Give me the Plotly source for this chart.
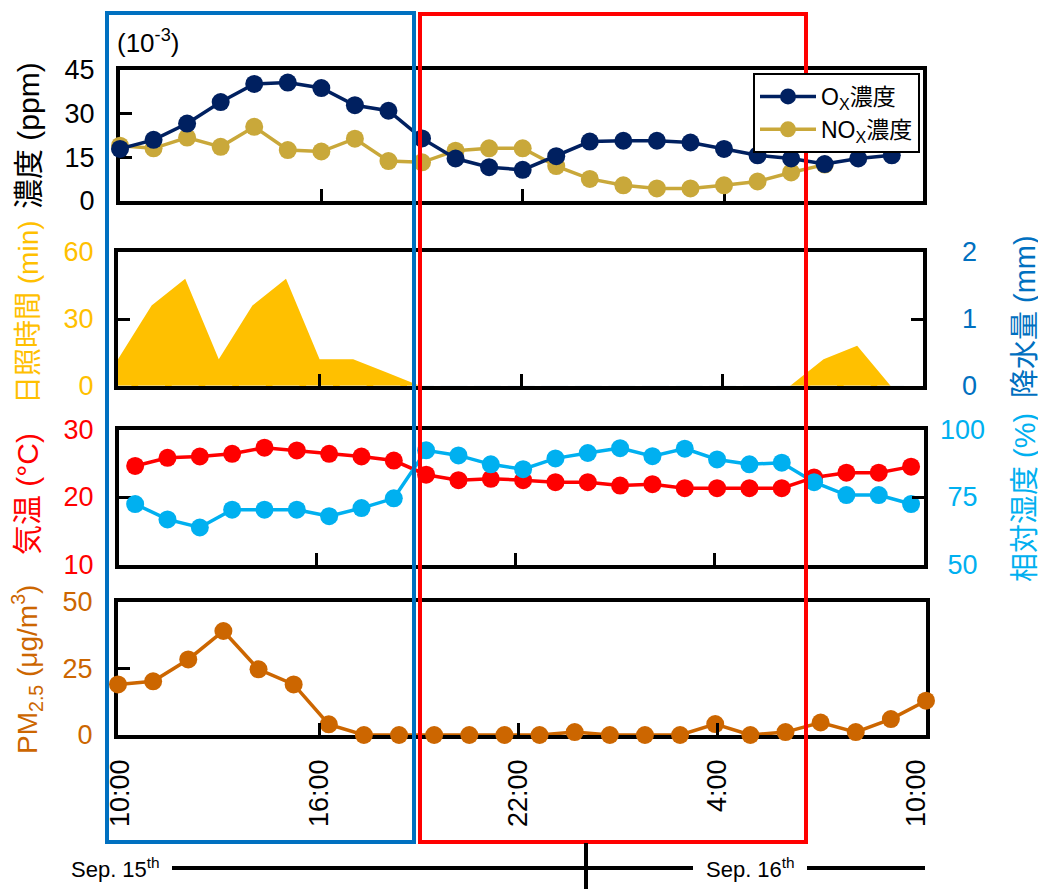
import plotly.graph_objects as go

W, H = 1046, 889
OFF = 8  # page body margin of the html page
FONT = "Liberation Sans, Arial, Noto Sans CJK JP"

# ---------------- data ----------------
# hour offsets from 10:00 Sep 15
ox_hours = list(range(24))
ox = [17.9, 21.0, 26.6, 34.0, 40.2, 40.7, 38.8, 32.9, 31.0, 21.5, 14.6, 11.6,
      10.7, 15.4, 20.4, 20.7, 20.7, 20.1, 17.9, 15.7, 14.6, 12.7, 14.6, 15.7]
nox_hours = list(range(22))
nox = [19.0, 18.1, 21.8, 18.6, 25.5, 17.5, 17.0, 21.4, 13.7, 13.3, 17.3, 18.1,
       18.1, 12.0, 7.6, 5.4, 4.3, 4.3, 5.4, 6.7, 9.8, 12.5]

sun_hours = list(range(24))
sunshine = [12, 36, 48, 12, 36, 48, 12, 12, 6, 0, 0, 0,
            0, 0, 0, 0, 0, 0, 0, 0, 0, 12, 18, 0]
precip = [0] * 24

met_index = list(range(25))
temperature = [24.6, 25.8, 26.0, 26.4, 27.3, 26.9, 26.4, 26.0, 25.4, 23.3, 22.5, 22.7,
               22.5, 22.2, 22.2, 21.7, 21.9, 21.3, 21.3, 21.3, 21.3, 22.9, 23.6, 23.6, 24.5]
humidity = [72.4, 66.7, 63.7, 70.3, 70.3, 70.3, 67.9, 70.9, 74.5, 92.3, 90.4, 87.1,
            85.3, 89.3, 91.3, 93.1, 90.1, 92.9, 88.9, 87.1, 87.7, 80.5, 75.7, 75.7, 72.4]

pm_index = list(range(24))
pm25 = [19.0, 20.2, 28.4, 39.1, 24.7, 19.0, 4.0, 0.0, 0.0, 0.0, 0.0, 0.0,
        0.0, 1.1, 0.0, 0.0, 0.0, 4.1, 0.0, 1.1, 4.7, 1.1, 6.0, 12.9]

time_ticks = [0, 6, 12, 18, 24]
time_labels = ["10:00", "16:00", "22:00", "4:00", "10:00"]

# ---------------- colours ----------------
C_OX = "#002060"
C_NOX = "#C9A83A"
C_SUN = "#FFC000"
C_RAIN = "#0070C0"
C_TEMP = "#FF0000"
C_HUM = "#00B0F0"
C_PM = "#CC6600"


def fx(p):
    return (p - OFF) / W


def fy(p):
    return 1 - (p - OFF) / H


fig = go.Figure()

MK = 18
LW = 3.5

# Panel 1
fig.add_trace(go.Scatter(x=nox_hours, y=nox, mode="lines+markers", name="NO<sub>X</sub>濃度",
                         line=dict(color=C_NOX, width=LW), marker=dict(color=C_NOX, size=MK),
                         cliponaxis=False, legendrank=2, xaxis="x", yaxis="y"))
fig.add_trace(go.Scatter(x=ox_hours, y=ox, mode="lines+markers", name="O<sub>X</sub>濃度",
                         line=dict(color=C_OX, width=LW), marker=dict(color=C_OX, size=MK),
                         cliponaxis=False, legendrank=1, xaxis="x", yaxis="y"))
# Panel 2
fig.add_trace(go.Scatter(x=sun_hours, y=sunshine, mode="lines", fill="tozeroy",
                         line=dict(color=C_SUN, width=0), fillcolor=C_SUN,
                         showlegend=False, xaxis="x2", yaxis="y2"))
fig.add_trace(go.Bar(x=sun_hours, y=precip, marker_color=C_RAIN, showlegend=False,
                     xaxis="x2", yaxis="y5"))
# Panel 3
fig.add_trace(go.Scatter(x=met_index, y=humidity, mode="lines+markers",
                         line=dict(color=C_HUM, width=LW), marker=dict(color=C_HUM, size=MK),
                         cliponaxis=False, showlegend=False, xaxis="x3", yaxis="y6"))
fig.add_trace(go.Scatter(x=met_index, y=temperature, mode="lines+markers",
                         line=dict(color=C_TEMP, width=LW), marker=dict(color=C_TEMP, size=MK),
                         cliponaxis=False, showlegend=False, xaxis="x3", yaxis="y3"))
# Panel 4
fig.add_trace(go.Scatter(x=pm_index, y=pm25, mode="lines+markers",
                         line=dict(color=C_PM, width=LW), marker=dict(color=C_PM, size=MK),
                         cliponaxis=False, showlegend=False, xaxis="x4", yaxis="y4"))
# empty carriers for the time axes
for xa, ya in (("x5", "y3"), ("x6", "y4"), ("x7", "y4")):
    fig.add_trace(go.Scatter(x=[time_ticks[0], time_ticks[-1]], y=[None, None], mode="lines",
                             showlegend=False, hoverinfo="skip", xaxis=xa, yaxis=ya))

box = dict(showline=True, linewidth=4, linecolor="black", mirror=True,
           showgrid=False, zeroline=False, ticks="inside", ticklen=12,
           tickwidth=3, tickcolor="black", automargin=False)
plain = dict(showline=False, showgrid=False, zeroline=False, automargin=False,
             tickmode="array", ticklen=12, tickwidth=3, tickcolor="black")


def tf(color):
    return dict(size=27, color=color, family=FONT)


# x axes
p1x = [120, 923]
p2x = [118, 923]
p3x = [119, 924]
p4x = [118, 926]
xcommon = dict(box, tickmode="array", tickvals=time_ticks[1:4], showticklabels=False)
fig.update_layout(
    xaxis=dict(xcommon, domain=[fx(p1x[0]), fx(p1x[1])], range=[0, 23.93], anchor="y",
               layer="below traces"),
    xaxis2=dict(xcommon, domain=[fx(p2x[0]), fx(p2x[1])], range=[0, 23.96], anchor="y2"),
    xaxis3=dict(box, domain=[fx(p3x[0]), fx(p3x[1])], range=[-0.5, 24.4], anchor="y3",
                ticks="", showticklabels=False, layer="below traces"),
    xaxis4=dict(box, domain=[fx(p4x[0]), fx(p4x[1])], range=[0, 23], anchor="y4",
                ticks="", showticklabels=False, layer="below traces"),
    xaxis5=dict(plain, overlaying="x3", anchor="y3", range=[0.06, 24.31],
                tickvals=time_ticks[1:4], ticks="inside", showticklabels=False),
    xaxis6=dict(plain, overlaying="x4", anchor="y4", range=[-0.06, 24.28],
                tickvals=time_ticks[1:4], ticks="inside", showticklabels=False),
    xaxis7=dict(plain, overlaying="x4", anchor="y4", range=[-0.06, 24.28],
                tickvals=time_ticks, ticktext=time_labels, ticks="", tickangle=-90,
                ticklabelstandoff=18, tickfont=tf("black")),
)

# y axes
fig.update_layout(
    yaxis=dict(box, domain=[fy(201), fy(70)], range=[0, 45], anchor="x",
               tickmode="array", tickvals=[0, 15, 30, 45], tickfont=tf("black"),
               ticklabelstandoff=16, layer="below traces"),
    yaxis2=dict(box, domain=[fy(386), fy(252)], range=[0, 60], anchor="x2",
                tickmode="array", tickvals=[0, 30, 60], tickfont=tf(C_SUN),
                ticklabelstandoff=15),
    yaxis5=dict(plain, overlaying="y2", side="right", anchor="x2", range=[0, 2],
                tickvals=[0, 1, 2], ticks="inside", tickfont=tf(C_RAIN),
                ticklabelstandoff=38),
    yaxis3=dict(box, domain=[fy(564.5), fy(429.5)], range=[10, 30], anchor="x3",
                tickmode="array", tickvals=[10, 20, 30], tickfont=tf(C_TEMP),
                ticklabelstandoff=16, layer="below traces"),
    yaxis6=dict(plain, overlaying="y3", side="right", anchor="x3", range=[50, 100],
                tickvals=[50, 75, 100], ticktext=["\u200850", "\u200875", "100"],
                ticks="inside", tickfont=tf(C_HUM), ticklabelstandoff=15),
    yaxis4=dict(box, domain=[fy(735), fy(602)], range=[0, 50], anchor="x4",
                tickmode="array", tickvals=[0, 25, 50], tickfont=tf(C_PM),
                ticklabelstandoff=16, layer="below traces"),
)

# ---------------- annotations ----------------
ann = []


def title(text, x, y, color, angle=-90, size=29):
    ann.append(dict(text=text, x=fx(x), y=fy(y), xref="paper", yref="paper",
                    showarrow=False, textangle=angle, xanchor="center", yanchor="middle",
                    font=dict(size=size, color=color, family=FONT)))


title("濃度 (ppm)", 28, 136, "black", size=30)
title("日照時間 (min)", 29, 312, C_SUN, size=28)
title("気温 (°C)", 27, 494, C_TEMP, size=30)
title("PM<sub>2.5</sub> (μg/m<sup>3</sup>)", 27, 670, C_PM, size=28)
title("降水量 (mm)", 1025, 317, C_RAIN)
title("相対湿度 (%)", 1025, 498, C_HUM)
title("(10<sup>-3</sup>)", 148, 42, "black", angle=0, size=26)
title("Sep. 15<sup>th</sup>", 115, 868, "black", angle=0, size=22)
title("Sep. 16<sup>th</sup>", 750, 868, "black", angle=0, size=22)

# ---------------- shapes ----------------
shapes = []


def rect(x0, y0, x1, y1, color):
    shapes.append(dict(type="rect", xref="paper", yref="paper", x0=fx(x0), x1=fx(x1),
                       y0=fy(y0), y1=fy(y1), line=dict(color=color, width=4),
                       fillcolor="rgba(0,0,0,0)", layer="above"))


def seg(x0, y0, x1, y1):
    shapes.append(dict(type="line", xref="paper", yref="paper", x0=fx(x0), x1=fx(x1),
                       y0=fy(y0), y1=fy(y1), line=dict(color="black", width=4)))


rect(107, 13, 414, 842, C_RAIN)
rect(420, 14, 806, 842, C_TEMP)
seg(172, 868, 693, 868)
seg(807, 868, 925, 868)
seg(586, 843, 586, 897)

fig.update_layout(
    width=W, height=H, autosize=False,
    margin=dict(l=0, r=0, t=0, b=0, autoexpand=False),
    paper_bgcolor="white", plot_bgcolor="rgba(0,0,0,0)",
    font=dict(family=FONT, color="black"),
    annotations=ann, shapes=shapes,
    showlegend=True,
    legend=dict(x=fx(920), y=fy(73), xanchor="right", yanchor="top",
                bgcolor="white", bordercolor="black", borderwidth=2,
                font=dict(size=23, family=FONT, color="black"),
                tracegroupgap=0, itemwidth=56),
    bargap=0.2,
)

fig.write_html("out.html")
